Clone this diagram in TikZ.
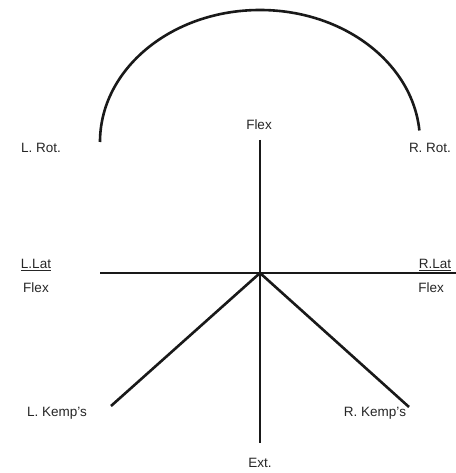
\documentclass[tikz,border=0pt]{standalone}
\usepackage{fontspec}
\setmainfont{Liberation Sans}
\begin{document}
\begin{tikzpicture}[x=1pt,y=-1pt,
  lbl/.style={inner sep=0pt, font=\fontsize{13.5}{14}\selectfont, text=black!85},
  ln/.style={line width=2.6pt, black!90}]
\useasboundingbox[fill=white] (0,0) rectangle (455,473);
\coordinate (O) at (260,273);
\coordinate (top) at (260,140);
\coordinate (bot) at (260,443);
\coordinate (lft) at (100,273);
\coordinate (rgt) at (460,273);
\coordinate (lk) at (111,406);
\coordinate (rk) at (409,407);
\coordinate (arcL) at (100,142);
\node[lbl] (lrot) at (41,148) {L. Rot.};
\node[lbl] (flex) at (259,125) {Flex};
\node[lbl] (rrot) at (430,148) {R. Rot.};
\node[lbl] (llat) at (36,265) {\underline{L.Lat}};
\node[lbl] (llatf) at (36,288) {Flex};
\node[lbl] (rlat) at (435,265) {\underline{R.Lat}};
\node[lbl] (rlatf) at (431,288) {Flex};
\node[lbl] (lkemp) at (57,413) {L. Kemp's};
\node[lbl] (rkemp) at (375,413) {R. Kemp's};
\node[lbl] (ext) at (260,463) {Ext.};
\draw[ln] (top) -- (bot);
\draw[ln] (lft) -- (rgt);
\draw[ln] (O) -- (lk);
\draw[ln] (O) -- (rk);
\draw[ln] (arcL) arc[start angle=180, end angle=355, x radius=160, y radius=132];
\end{tikzpicture}
\end{document}
